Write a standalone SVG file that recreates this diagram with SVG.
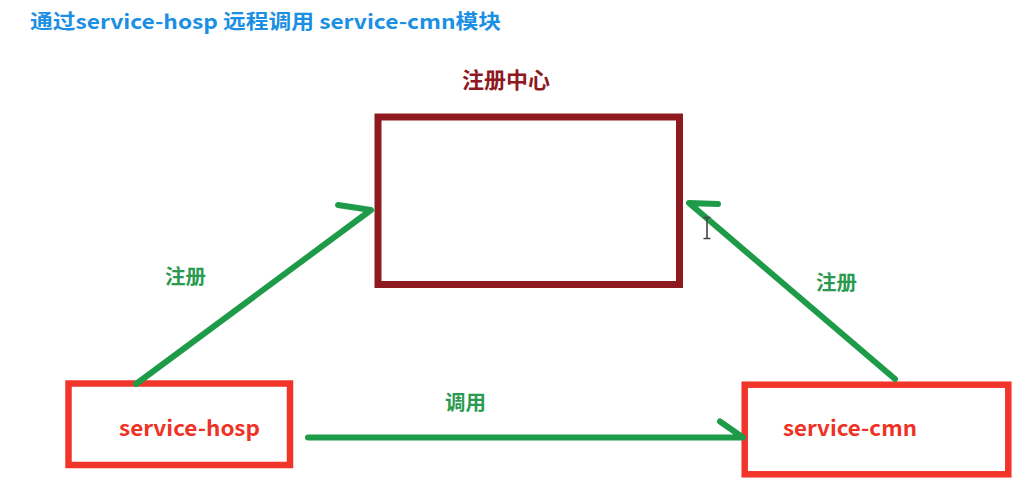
<svg xmlns="http://www.w3.org/2000/svg" width="1022" height="489" viewBox="0 0 1022 489">
  <style>
    text { font-family: "Noto Sans CJK SC", "Microsoft YaHei", sans-serif; font-weight: bold; }
    .title { fill: #1a8fe3; font-size: 20px; }
    .center-label { fill: #8e1a1f; font-size: 22px; }
    .svc { fill: #ef3226; font-size: 21px; }
    .edge-label { fill: #2a9a50; font-size: 20.5px; }
    .registry { fill: #ffffff; stroke: #8e1a1f; stroke-width: 7; }
    .service { fill: #ffffff; stroke: #f2352a; stroke-width: 6.5; }
    .link { fill: none; stroke: #1e9b48; stroke-width: 6; stroke-linecap: round; stroke-linejoin: round; }
  </style>

  <rect width="1022" height="489" fill="#ffffff"/>

  <text class="title" x="30" y="29" textLength="471" lengthAdjust="spacingAndGlyphs">通过service-hosp 远程调用 service-cmn模块</text>

  <!-- registry -->
  <g id="registry">
    <text class="center-label" x="506" y="88" text-anchor="middle">注册中心</text>
    <rect class="registry" x="378" y="117" width="301.5" height="167.5"/>
  </g>

  <!-- service-hosp -->
  <g id="service-hosp">
    <rect class="service" x="68.5" y="383.5" width="221.5" height="81.5"/>
    <text class="svc" x="119" y="436" textLength="141" lengthAdjust="spacingAndGlyphs">service-hosp</text>
  </g>

  <!-- service-cmn -->
  <g id="service-cmn">
    <rect class="service" x="744.7" y="384.7" width="263.6" height="89.6"/>
    <text class="svc" x="783" y="436" textLength="134" lengthAdjust="spacingAndGlyphs">service-cmn</text>
  </g>

  <!-- connectors -->
  <g id="connectors">
    <path class="link" d="M136 384 L371 210 L338 205"/>
    <path class="link" d="M895 379 L689 203 L718 204"/>
    <path class="link" d="M308 437.5 L743 437.5 L720 421.5"/>
    <text class="edge-label" x="165" y="284">注册</text>
    <text class="edge-label" x="816" y="290">注册</text>
    <text class="edge-label" x="445" y="410">调用</text>
  </g>

  <!-- text cursor -->
  <path d="M703.5 217.5 H710.5 M707 217.5 V238.5 M703.5 238.5 H710.5" stroke="#444444" stroke-width="1.6" fill="none"/>
</svg>
